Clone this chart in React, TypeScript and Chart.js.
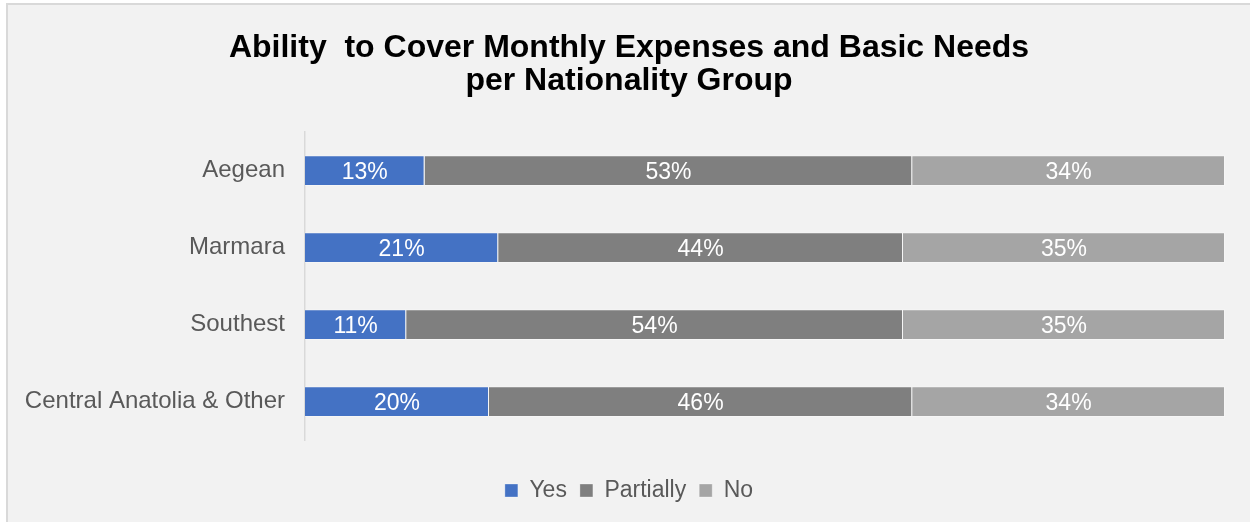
import React, { useEffect, useRef } from "react";
import { Chart, registerables } from "chart.js";

Chart.register(...registerables);

const categories = ["Aegean", "Marmara", "Southest", "Central Anatolia & Other"];
const seriesNames = ["Yes", "Partially", "No"];
const yesValues = [13, 21, 11, 20];
const partiallyValues = [53, 44, 54, 46];
const noValues = [34, 35, 35, 34];
const seriesColors = ["#4472c4", "#7f7f7f", "#a5a5a5"];
const titleLines = ["Ability  to Cover Monthly Expenses and Basic Needs", "per Nationality Group"];

const FONT = '"Liberation Sans", Arial, sans-serif';

const barLabels = {
  id: "barLabels",
  afterDatasetsDraw(chart: any) {
    const { ctx } = chart;
    ctx.save();
    ctx.font = `23px ${FONT}`;
    ctx.fillStyle = "#ffffff";
    ctx.textAlign = "center";
    ctx.textBaseline = "middle";
    chart.data.datasets.forEach((ds: any, i: number) => {
      const meta = chart.getDatasetMeta(i);
      meta.data.forEach((bar: any, j: number) => {
        const p = bar.getProps(["x", "y", "base"], true);
        ctx.fillText(ds.data[j] + "%", (p.x + p.base) / 2, p.y + 2);
      });
    });
    ctx.restore();
  },
};

export default function App() {
  const ref = useRef<HTMLCanvasElement | null>(null);
  useEffect(() => {
    if (!ref.current) return;
    const values = [yesValues, partiallyValues, noValues];
    const chart = new Chart(ref.current, {
      type: "bar",
      data: {
        labels: categories,
        datasets: seriesNames.map((name, i) => ({
          label: name,
          data: values[i],
          backgroundColor: seriesColors[i],
          borderColor: "rgba(255,255,255,0.3)",
          borderWidth: 1,
          categoryPercentage: 1,
          barPercentage: 0.4,
        })),
      },
      options: {
        indexAxis: "y",
        animation: false,
        responsive: true,
        maintainAspectRatio: false,
        layout: { padding: { left: 0, right: 0, top: 0, bottom: 10 } },
        scales: {
          x: {
            stacked: true,
            min: 0,
            max: 100,
            display: true,
            grid: { display: false, drawTicks: false },
            border: { display: false },
            ticks: { display: false },
            afterFit(scale: any) {
              scale.height = 26;
            },
          },
          y: {
            stacked: true,
            grid: { display: false, drawTicks: false },
            border: { display: true, color: "#d9d9d9", width: 1.5 },
            ticks: { color: "#595959", font: { family: FONT, size: 24 }, padding: 20 },
            afterFit(scale: any) {
              scale.width = 297;
            },
          },
          y2: {
            type: "category",
            labels: categories,
            position: "right",
            display: true,
            grid: { display: false, drawTicks: false },
            border: { display: false },
            ticks: { display: false },
            afterFit(scale: any) {
              scale.width = 25;
            },
          },
        },
        plugins: {
          title: {
            display: true,
            text: titleLines,
            color: "#000000",
            font: { family: FONT, size: 32, weight: "bold", lineHeight: 1.05 },
            padding: { top: 26, bottom: 34 },
          },
          legend: {
            position: "bottom",
            labels: {
              color: "#595959",
              font: { family: FONT, size: 23 },
              boxWidth: 13,
              boxHeight: 13,
              padding: 13,
            },
          },
          tooltip: { enabled: false },
        },
      },
      plugins: [barLabels],
    });
    return () => chart.destroy();
  }, []);

  return (
    <div style={{ position: "fixed", left: 0, top: 0, width: 1250, height: 522, background: "#ffffff", overflow: "hidden" }}>
      <div
        style={{
          position: "absolute",
          left: 6,
          top: 3,
          width: 1260,
          height: 530,
          background: "#f2f2f2",
          border: "2px solid #d9d9d9",
          boxSizing: "border-box",
        }}
      >
        <div style={{ position: "absolute", left: 0, top: 0, width: 1242, height: 517 }}>
          <canvas ref={ref} />
        </div>
      </div>
    </div>
  );
}
